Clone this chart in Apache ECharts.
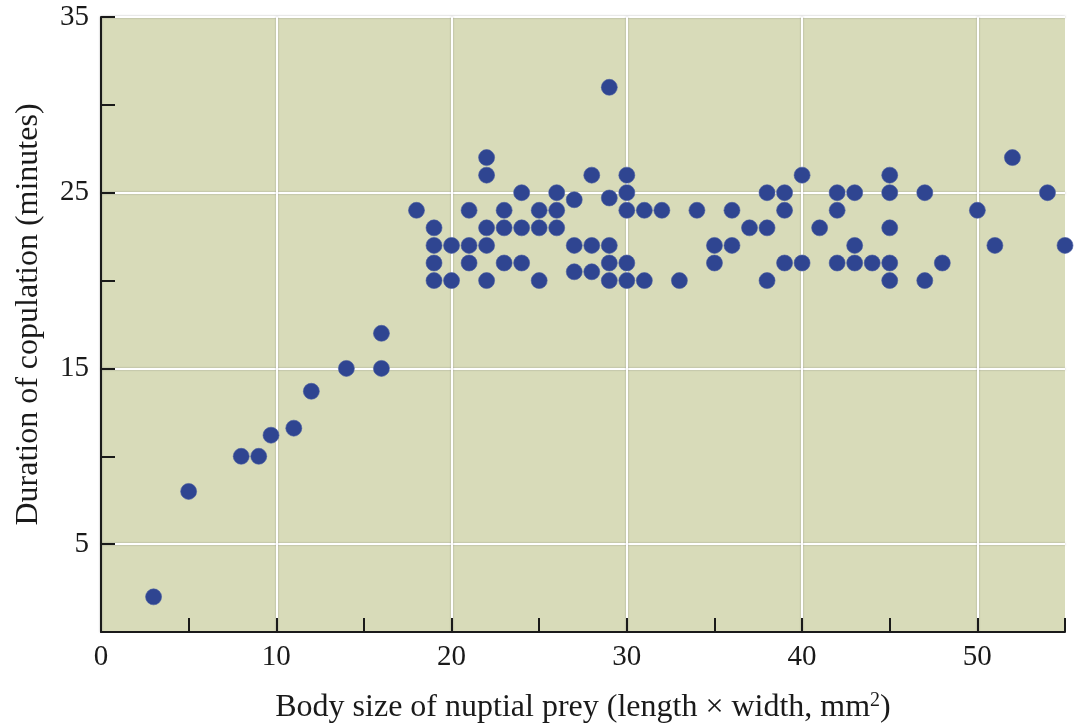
<!DOCTYPE html>
<html>
<head>
<meta charset="utf-8">
<title>Duration of copulation vs. body size of nuptial prey</title>
<script src="https://cdn.jsdelivr.net/npm/echarts@6/dist/echarts.min.js"></script>
<style>
  html, body { margin: 0; padding: 0; background: #ffffff; }
  #chart { width: 1076px; height: 724px; }
</style>
</head>
<body>
<div id="chart"></div>
<script>
// Body size of nuptial prey (length x width, mm^2)
const preySize = [
  3, 5, 8, 9, 9.7, 11, 12, 14, 16, 16,
  18,
  19, 19, 19, 19,
  20, 20,
  21, 21, 21,
  22, 22, 22, 22, 22,
  23, 23, 23,
  24, 24, 24,
  25, 25, 25,
  26, 26, 26,
  27, 27, 27,
  28, 28, 28,
  29, 29, 29, 29, 29,
  30, 30, 30, 30, 30,
  31, 31,
  32, 33, 34,
  35, 35,
  36, 36,
  37,
  38, 38, 38,
  39, 39, 39,
  40, 40,
  41,
  42, 42, 42,
  43, 43, 43,
  44,
  45, 45, 45, 45, 45,
  47, 47,
  48, 50, 51, 52, 54, 55
];

// Duration of copulation (minutes)
const copulationMinutes = [
  2, 8, 10, 10, 11.2, 11.6, 13.7, 15, 15, 17,
  24,
  23, 22, 21, 20,
  22, 20,
  24, 22, 21,
  27, 26, 23, 22, 20,
  24, 23, 21,
  25, 23, 21,
  24, 23, 20,
  25, 24, 23,
  24.6, 22, 20.5,
  26, 22, 20.5,
  31, 24.7, 22, 21, 20,
  26, 25, 24, 21, 20,
  24, 20,
  24, 20, 24,
  22, 21,
  24, 22,
  23,
  25, 23, 20,
  25, 24, 21,
  26, 21,
  23,
  25, 24, 21,
  25, 22, 21,
  21,
  26, 25, 23, 21, 20,
  25, 20,
  21, 24, 22, 27, 25, 22
];

// Labelled tick values on each axis
const xTickLabels = [0, 10, 20, 30, 40, 50];
const yTickLabels = [5, 15, 25, 35];

const points = preySize.map((x, i) => [x, copulationMinutes[i]]);

const serif = '"Liberation Serif", "DejaVu Serif", serif';
const ink = '#1a1a1a';
const gridLine = {
  width: 2,
  shadowColor: 'rgba(110,110,110,0.55)',
  shadowBlur: 2
};

const chart = echarts.init(document.getElementById('chart'), null, { renderer: 'canvas' });

chart.setOption({
  animation: false,
  backgroundColor: '#ffffff',
  grid: {
    left: 101,
    top: 17,
    right: 11,
    bottom: 92,
    containLabel: false,
    outerBoundsMode: 'none',
    show: true,
    backgroundColor: '#d8dbb9',
    borderWidth: 0
  },
  xAxis: {
    type: 'value',
    min: 0,
    max: 55,
    interval: 5,
    name: '{t|Body size of nuptial prey (length × width, mm}{sup|2}{t|)}',
    nameLocation: 'middle',
    nameGap: 59,
    nameTextStyle: {
      rich: {
        t: { fontFamily: serif, fontSize: 32, color: ink },
        sup: { fontFamily: serif, fontSize: 20, color: ink, verticalAlign: 'top', padding: [0, 0, 14, 0] }
      }
    },
    axisLine: { show: true, onZero: false, lineStyle: { color: ink, width: 2 } },
    axisTick: { show: true, inside: true, length: 14, lineStyle: { color: ink, width: 2 } },
    axisLabel: {
      margin: 11,
      fontFamily: serif,
      fontSize: 29,
      color: ink,
      formatter: v => (xTickLabels.includes(v) ? String(v) : '')
    },
    splitLine: {
      show: true,
      showMinLine: true,
      showMaxLine: true,
      lineStyle: Object.assign({ color: ['#ffffff', 'rgba(0,0,0,0)'] }, gridLine)
    }
  },
  yAxis: {
    type: 'value',
    min: 0,
    max: 35,
    interval: 5,
    name: 'Duration of copulation (minutes)',
    nameLocation: 'middle',
    nameGap: 56,
    nameTextStyle: { fontFamily: serif, fontSize: 32, color: ink, padding: [0, 0, 0, 20] },
    axisLine: { show: true, onZero: false, lineStyle: { color: ink, width: 2 } },
    axisTick: { show: true, inside: true, length: 14, lineStyle: { color: ink, width: 2 } },
    axisLabel: {
      margin: 12,
      fontFamily: serif,
      fontSize: 29,
      color: ink,
      formatter: v => (yTickLabels.includes(v) ? String(v) : '')
    },
    splitLine: {
      show: true,
      showMinLine: true,
      showMaxLine: true,
      lineStyle: Object.assign({ color: ['rgba(0,0,0,0)', '#ffffff'] }, gridLine)
    }
  },
  series: [{
    type: 'scatter',
    data: points,
    symbol: 'circle',
    symbolSize: 16,
    clip: false,
    itemStyle: {
      color: '#2f4591',
      borderColor: 'rgba(70,90,160,0.6)',
      borderWidth: 1,
      opacity: 1
    }
  }]
});
</script>
</body>
</html>
